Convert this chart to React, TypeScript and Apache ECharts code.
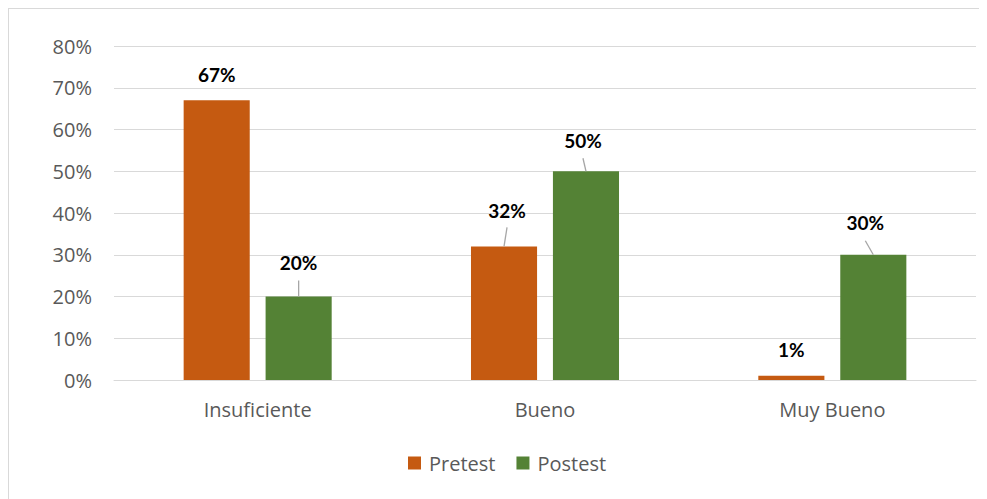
import React, { useEffect, useRef } from "react";
import * as echarts from "echarts";

const categories = ["Insuficiente", "Bueno", "Muy Bueno"];
const pretest = [0.67, 0.32, 0.01];
const postest = [0.2, 0.5, 0.3];
const seriesNames = ["Pretest", "Postest"];
const colors = ["#C55A11", "#548235"];

// value label placement above each bar: [distance, dx]
const pretestLabelPos = [[16, 0], [26, 3], [17, 0]];
const postestLabelPos = [[24.5, 0], [21, -3], [23, -8]];
// leader line lengths (0 = no leader)
const pretestLeader = [0, 19, 0];
const postestLeader = [16, 13, 14];

const BAR_WIDTH = 0.23; // share of the category band
const BAR_GAP = 0.24; // share of the bar width

const AXIS_FONT = "'Open Sans', sans-serif";
const LABEL_FONT = "Lato, 'Open Sans', sans-serif";

const pct = (v: number) => `${Math.round(v * 100)}%`;

function buildData(values: number[], pos: number[][]) {
  return values.map((v, i) => ({
    value: v,
    label: { distance: pos[i][0], offset: [pos[i][1], 0] },
  }));
}

// [category index, value, leader length, dx, side (-1 pretest, 1 postest)]
const leaderData: number[][] = [];
pretest.forEach((v, i) => {
  if (pretestLeader[i] > 0) leaderData.push([i, v, pretestLeader[i], pretestLabelPos[i][1], -1]);
});
postest.forEach((v, i) => {
  if (postestLeader[i] > 0) leaderData.push([i, v, postestLeader[i], postestLabelPos[i][1], 1]);
});

export default function App() {
  const ref = useRef<HTMLDivElement>(null);

  useEffect(() => {
    document.documentElement.style.overflow = "hidden";
    const chart = echarts.init(ref.current!, null, { renderer: "svg" });
    const barLabel = {
      show: true,
      position: "top",
      formatter: (p: any) => pct(p.value),
      fontFamily: LABEL_FONT,
      fontSize: 19,
      fontWeight: "bold",
      color: "#000000",
    };
    chart.setOption({
      animation: false,
      backgroundColor: "#ffffff",
      color: colors,
      grid: { left: 105, right: 13, top: 37, bottom: 129 },
      legend: {
        bottom: 31,
        left: 394,
        icon: "rect",
        itemWidth: 13,
        itemHeight: 13,
        itemGap: 21,
        textStyle: {
          fontFamily: AXIS_FONT,
          fontSize: 20,
          color: "#595959",
          padding: [0, 0, 0, 3],
        },
        data: seriesNames,
      },
      xAxis: {
        type: "category",
        data: categories,
        axisLine: { lineStyle: { color: "#d9d9d9", width: 1 } },
        axisTick: { show: false },
        axisLabel: {
          fontFamily: AXIS_FONT,
          fontSize: 20,
          color: "#595959",
          margin: 19,
        },
      },
      yAxis: {
        type: "value",
        min: 0,
        max: 0.8,
        interval: 0.1,
        axisLine: { show: false },
        axisTick: { show: false },
        splitLine: { lineStyle: { color: "#d9d9d9", width: 1 } },
        axisLabel: {
          formatter: (v: number) => pct(v),
          fontFamily: AXIS_FONT,
          fontSize: 20,
          color: "#595959",
          margin: 22,
        },
      },
      series: [
        {
          name: seriesNames[0],
          type: "bar",
          barWidth: `${BAR_WIDTH * 100}%`,
          barGap: `${BAR_GAP * 100}%`,
          data: buildData(pretest, pretestLabelPos),
          label: barLabel,
        },
        {
          name: seriesNames[1],
          type: "bar",
          barWidth: `${BAR_WIDTH * 100}%`,
          barGap: `${BAR_GAP * 100}%`,
          data: buildData(postest, postestLabelPos),
          label: barLabel,
        },
        {
          name: "leaders",
          type: "custom",
          silent: true,
          z: 5,
          data: leaderData,
          renderItem: (params: any, api: any) => {
            const cat = api.value(0);
            const val = api.value(1);
            const len = api.value(2);
            const dx = api.value(3);
            const side = api.value(4);
            const top = api.coord([cat, val]);
            const band = api.size([1, 0])[0];
            const bw = band * BAR_WIDTH;
            const cx = top[0] + side * (bw + bw * BAR_GAP) / 2;
            return {
              type: "line",
              shape: { x1: cx, y1: top[1], x2: cx + dx, y2: top[1] - len },
              style: { stroke: "#a6a6a6", lineWidth: 1.3 },
            };
          },
        },
      ],
    });
    return () => chart.dispose();
  }, []);

  return (
    <div style={{ border: "1px solid #d9d9d9", width: 980, height: 500 }}>
      <div ref={ref} style={{ width: 980, height: 500 }} />
    </div>
  );
}
